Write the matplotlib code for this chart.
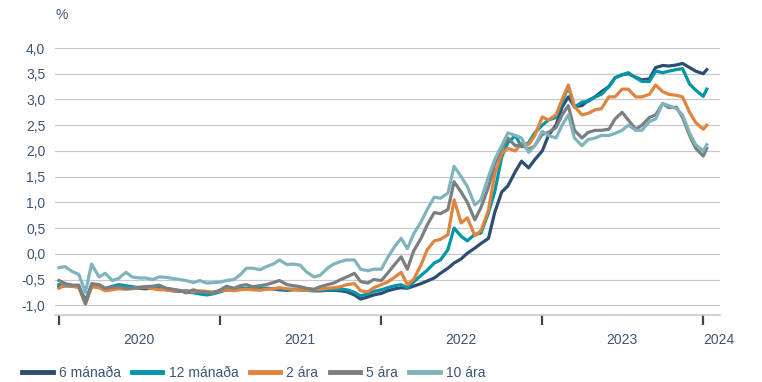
import pandas as pd
import matplotlib.pyplot as plt
import matplotlib.dates as mdates
from matplotlib.ticker import FuncFormatter, FixedLocator

# --- Gögn: ávöxtunarkrafa ríkisbréfa (%), hálfsmánaðarleg gildi ---
dates = list(pd.date_range('2020-01-01', '2024-01-01', freq='SMS')) + [pd.Timestamp('2024-01-09')]

m6 = [-0.65, -0.62, -0.62, -0.64, -0.95, -0.63, -0.64, -0.68, -0.64, -0.63, -0.64, -0.66, -0.67,
      -0.68, -0.66, -0.68, -0.70, -0.72, -0.73, -0.72, -0.74, -0.75, -0.76, -0.75, -0.72,
      -0.70, -0.70, -0.69, -0.68, -0.68, -0.68, -0.67, -0.68, -0.70, -0.71, -0.70, -0.70,
      -0.71, -0.72, -0.72, -0.71, -0.71, -0.72, -0.74, -0.80, -0.88, -0.84, -0.80, -0.77,
      -0.72, -0.68, -0.66, -0.67, -0.63, -0.58, -0.53, -0.47, -0.38, -0.28, -0.18, -0.10,
      0.01, 0.11, 0.20, 0.30, 0.80, 1.20, 1.32, 1.60, 1.80, 1.67, 1.83, 2.00,
      2.30, 2.50, 2.85, 3.05, 2.86, 2.88, 2.98, 3.05, 3.15, 3.25, 3.42, 3.48,
      3.50, 3.43, 3.38, 3.40, 3.62, 3.66, 3.65, 3.67, 3.70, 3.62, 3.55, 3.50, 3.58]

m12 = [-0.60, -0.62, -0.63, -0.64, -0.90, -0.62, -0.62, -0.68, -0.63, -0.60, -0.62, -0.64, -0.66,
       -0.66, -0.65, -0.66, -0.68, -0.70, -0.72, -0.74, -0.76, -0.78, -0.80, -0.78, -0.74,
       -0.70, -0.68, -0.68, -0.67, -0.67, -0.67, -0.68, -0.68, -0.68, -0.70, -0.69, -0.70,
       -0.70, -0.71, -0.71, -0.70, -0.70, -0.69, -0.70, -0.75, -0.82, -0.78, -0.73, -0.70,
       -0.66, -0.62, -0.60, -0.66, -0.55, -0.42, -0.32, -0.18, -0.12, 0.08, 0.50, 0.34,
       0.25, 0.38, 0.40, 0.80, 1.20, 1.88, 2.16, 2.30, 2.08, 2.16, 2.35, 2.50,
       2.60, 2.65, 2.95, 3.25, 2.85, 2.95, 2.96, 3.05, 3.10, 3.25, 3.42, 3.48,
       3.52, 3.42, 3.35, 3.35, 3.55, 3.52, 3.55, 3.58, 3.60, 3.30, 3.18, 3.06, 3.20]

y2 = [-0.67, -0.60, -0.63, -0.66, -0.98, -0.64, -0.66, -0.72, -0.70, -0.68, -0.69, -0.68, -0.66,
      -0.65, -0.68, -0.70, -0.70, -0.72, -0.72, -0.73, -0.74, -0.72, -0.73, -0.75, -0.72,
      -0.70, -0.72, -0.70, -0.69, -0.70, -0.71, -0.69, -0.68, -0.66, -0.68, -0.69, -0.70,
      -0.71, -0.70, -0.69, -0.67, -0.66, -0.64, -0.60, -0.58, -0.72, -0.74, -0.66, -0.60,
      -0.55, -0.45, -0.36, -0.60, -0.50, -0.22, 0.08, 0.25, 0.28, 0.37, 1.05, 0.60,
      0.70, 0.35, 0.45, 0.85, 1.55, 1.95, 2.05, 2.00, 2.15, 2.12, 2.30, 2.66,
      2.60, 2.70, 3.00, 3.28, 2.86, 2.70, 2.73, 2.80, 2.82, 3.05, 3.05, 3.20,
      3.20, 3.05, 3.05, 3.10, 3.28, 3.15, 3.10, 3.08, 3.05, 2.75, 2.55, 2.42, 2.50]

y5 = [-0.52, -0.58, -0.61, -0.61, -0.97, -0.58, -0.60, -0.67, -0.65, -0.64, -0.67, -0.67, -0.65,
      -0.64, -0.63, -0.61, -0.67, -0.69, -0.71, -0.76, -0.70, -0.74, -0.75, -0.77, -0.70,
      -0.63, -0.67, -0.62, -0.60, -0.64, -0.62, -0.60, -0.56, -0.52, -0.60, -0.62, -0.64,
      -0.67, -0.69, -0.64, -0.60, -0.57, -0.50, -0.45, -0.38, -0.54, -0.57, -0.50, -0.52,
      -0.38, -0.20, -0.06, -0.30, 0.05, 0.30, 0.56, 0.80, 0.78, 0.86, 1.40, 1.20,
      1.00, 0.66, 0.90, 1.30, 1.75, 2.05, 2.25, 2.10, 2.12, 2.03, 2.10, 2.32,
      2.36, 2.45, 2.70, 2.88, 2.40, 2.25, 2.36, 2.40, 2.40, 2.42, 2.62, 2.75,
      2.60, 2.42, 2.50, 2.65, 2.70, 2.92, 2.84, 2.85, 2.65, 2.30, 2.05, 1.90, 2.05]

y10 = [-0.27, -0.25, -0.35, -0.40, -0.75, -0.20, -0.45, -0.38, -0.52, -0.48, -0.36, -0.45, -0.47,
       -0.47, -0.50, -0.45, -0.46, -0.48, -0.50, -0.52, -0.56, -0.52, -0.57, -0.56, -0.55,
       -0.52, -0.50, -0.41, -0.28, -0.28, -0.31, -0.25, -0.20, -0.12, -0.21, -0.20, -0.22,
       -0.35, -0.45, -0.42, -0.28, -0.20, -0.15, -0.12, -0.12, -0.30, -0.33, -0.30, -0.30,
       -0.08, 0.15, 0.30, 0.10, 0.38, 0.62, 0.86, 1.10, 1.08, 1.18, 1.70, 1.50,
       1.31, 0.95, 1.05, 1.50, 1.83, 2.10, 2.35, 2.30, 2.25, 1.97, 2.10, 2.38,
       2.30, 2.25, 2.50, 2.70, 2.25, 2.10, 2.22, 2.25, 2.30, 2.30, 2.34, 2.40,
       2.50, 2.40, 2.40, 2.57, 2.62, 2.92, 2.88, 2.82, 2.70, 2.35, 2.12, 2.00, 2.12]

series_names = ['6 mánaða', '12 mánaða', '2 ára', '5 ára', '10 ára']
series_values = [m6, m12, y2, y5, y10]
series_colors = ['#2d4e72', '#0096a8', '#e0843f', '#7a7f82', '#80b4bd']

year_ticks = ['2020', '2021', '2022', '2023', '2024']
year_labels = ['2020', '2021', '2022', '2023', '2024']
label_pos = ['2020-07-01', '2021-07-01', '2022-07-01', '2023-07-01', '2024-02-05']

TEXT = '#3b5575'
GRID = '#c9c9c9'

plt.rcParams['font.family'] = ['Liberation Sans', 'DejaVu Sans']

fig = plt.figure(figsize=(7.62, 3.82), dpi=100)
ax = fig.add_axes([55 / 762, 67 / 382, 665 / 762, 267 / 382])

for name, vals, col in zip(series_names, series_values, series_colors):
    ax.plot(dates, vals, color=col, lw=2.3, label=name, solid_joinstyle='round')

ax.set_xlim(pd.Timestamp('2019-12-23'), pd.Timestamp('2024-02-08'))
ax.set_ylim(-1.19, 4.0)

# y-ás
ax.set_yticks([-1.0, -0.5, 0.0, 0.5, 1.0, 1.5, 2.0, 2.5, 3.0, 3.5, 4.0])
ax.yaxis.set_major_formatter(FuncFormatter(lambda v, p: f'{v:.1f}'.replace('.', ',')))
ax.tick_params(axis='y', length=0, pad=7, labelsize=10, labelcolor=TEXT)
ax.grid(axis='y', color=GRID, lw=0.9)
ax.set_axisbelow(True)

# x-ás: merki við áramót, ártöl á milli
ax.xaxis.set_major_locator(FixedLocator([mdates.date2num(pd.Timestamp(y)) for y in year_ticks]))
ax.xaxis.set_minor_locator(FixedLocator([mdates.date2num(pd.Timestamp(d)) for d in label_pos]))
ax.xaxis.set_major_formatter(FuncFormatter(lambda v, p: ''))
ax.xaxis.set_minor_formatter(FuncFormatter(lambda v, p: year_labels[p] if p is not None and p < len(year_labels) else ''))
ax.tick_params(axis='x', which='major', length=7, width=1.6, color='#444444', direction='out', pad=1)
ax.tick_params(axis='x', which='minor', length=0, pad=13, labelsize=10, labelcolor=TEXT)

for s in ['top', 'right', 'left']:
    ax.spines[s].set_visible(False)
ax.spines['bottom'].set_color(GRID)
ax.spines['bottom'].set_linewidth(1.2)

fig.text(56 / 762, 1 - 15 / 382, '%', color=TEXT, fontsize=10, ha='left', va='center')

leg = fig.legend(loc='center left', bbox_to_anchor=(22 / 762, 9 / 382), ncol=5, frameon=False,
                 fontsize=10, handlelength=2.2, handletextpad=0.45, columnspacing=0.8,
                 borderpad=0, borderaxespad=0)
for line in leg.get_lines():
    line.set_linewidth(3.5)
for t in leg.get_texts():
    t.set_color(TEXT)

fig.savefig('out.png', dpi=100)
